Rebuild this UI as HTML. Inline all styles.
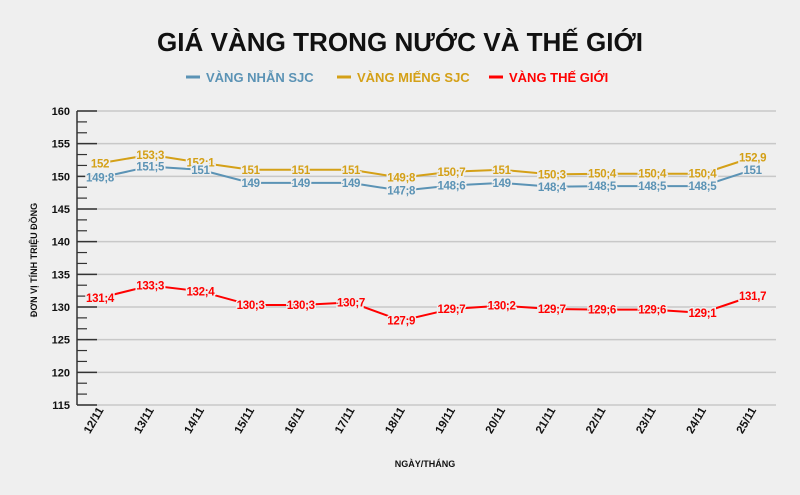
<!DOCTYPE html>
<html><head><meta charset="utf-8"><style>
body{margin:0;background:#efefef;}
svg{display:block;font-family:"Liberation Sans",sans-serif;}
</style></head><body>
<svg width="800" height="495" viewBox="0 0 800 495" xmlns="http://www.w3.org/2000/svg">
<rect width="800" height="495" fill="#efefef"/>
<text x="400" y="51" text-anchor="middle" font-size="26" font-weight="bold" fill="#111" textLength="486" lengthAdjust="spacingAndGlyphs">GIÁ VÀNG TRONG NƯỚC VÀ THẾ GIỚI</text>
<g font-size="13" font-weight="bold">
<line x1="186" y1="77" x2="200" y2="77" stroke="#5b93b5" stroke-width="3"/><text x="206" y="82" fill="#5b93b5">VÀNG NHẪN SJC</text>
<line x1="337" y1="77" x2="351" y2="77" stroke="#d4a017" stroke-width="3"/><text x="357" y="82" fill="#d4a017">VÀNG MIẾNG SJC</text>
<line x1="489" y1="77" x2="503" y2="77" stroke="#ff0000" stroke-width="3"/><text x="509" y="82" fill="#ff0000">VÀNG THẾ GIỚI</text>
</g>
<g id="grid"></g>
<g id="plot"></g>
<text transform="translate(37,260) rotate(-90)" text-anchor="middle" font-size="9" font-weight="bold" fill="#111">ĐƠN VỊ TÍNH TRIỆU ĐỒNG</text>
<text x="425" y="467" text-anchor="middle" font-size="9" font-weight="bold" fill="#111">NGÀY/THÁNG</text>
</svg>
<script>
const NS="http://www.w3.org/2000/svg";
function el(t,a,p,txt){const e=document.createElementNS(NS,t);for(const k in a)e.setAttribute(k,a[k]);if(txt)e.textContent=txt;p.appendChild(e);return e;}
const grid=document.getElementById('grid'),plot=document.getElementById('plot');
const Y=v=>111+(160-v)*6.533;
for(let v=115;v<=160;v+=5){const y=Y(v);
 el('line',{x1:77,y1:y,x2:776,y2:y,stroke:'#c8c8c8','stroke-width':1.5},grid);
 el('line',{x1:77,y1:y,x2:97,y2:y,stroke:'#333','stroke-width':1.5},grid);
 el('text',{x:70,y:y+4,'text-anchor':'end','font-size':11,'font-weight':'bold',fill:'#111'},grid,String(v));
 if(v<160){for(const f of [1/3,2/3]){const yy=Y(v+5*f);el('line',{x1:77,y1:yy,x2:87,y2:yy,stroke:'#333','stroke-width':1.2},grid);}}
}
el('line',{x1:77,y1:Y(160),x2:77,y2:Y(115),stroke:'#333','stroke-width':1.5},grid);
const X=i=>100+50.2*i;
const days=['12/11','13/11','14/11','15/11','16/11','17/11','18/11','19/11','20/11','21/11','22/11','23/11','24/11','25/11'];
days.forEach((d,i)=>{const x=X(i)+4;el('text',{transform:`translate(${x},410) rotate(-60)`,'text-anchor':'end','font-size':11.5,'font-weight':'bold',fill:'#111'},grid,d);});
const S=[
 ['#d4a017',[152,153.3,152.1,151,151,151,149.8,150.7,151,150.3,150.4,150.4,150.4,152.9]],
 ['#5b93b5',[149.8,151.5,151,149,149,149,147.8,148.6,149,148.4,148.5,148.5,148.5,151]],
 ['#ff0000',[131.4,133.3,132.4,130.3,130.3,130.7,127.9,129.7,130.2,129.7,129.6,129.6,129.1,131.7]]];
S.forEach(([c,d])=>{el('polyline',{points:d.map((v,i)=>X(i)+','+Y(v)).join(' '),fill:'none',stroke:c,'stroke-width':2},plot);});
S.forEach(([c,d])=>{d.forEach((v,i)=>{let s=String(v).replace('.',i==13?',':';');
 el('text',{x:X(i),y:Y(v)+4,'text-anchor':'middle','font-size':11.5,'font-weight':'bold',fill:c,stroke:'#efefef','stroke-width':3,'paint-order':'stroke','letter-spacing':'-0.3'},plot,s);});});
</script>
</body></html>
